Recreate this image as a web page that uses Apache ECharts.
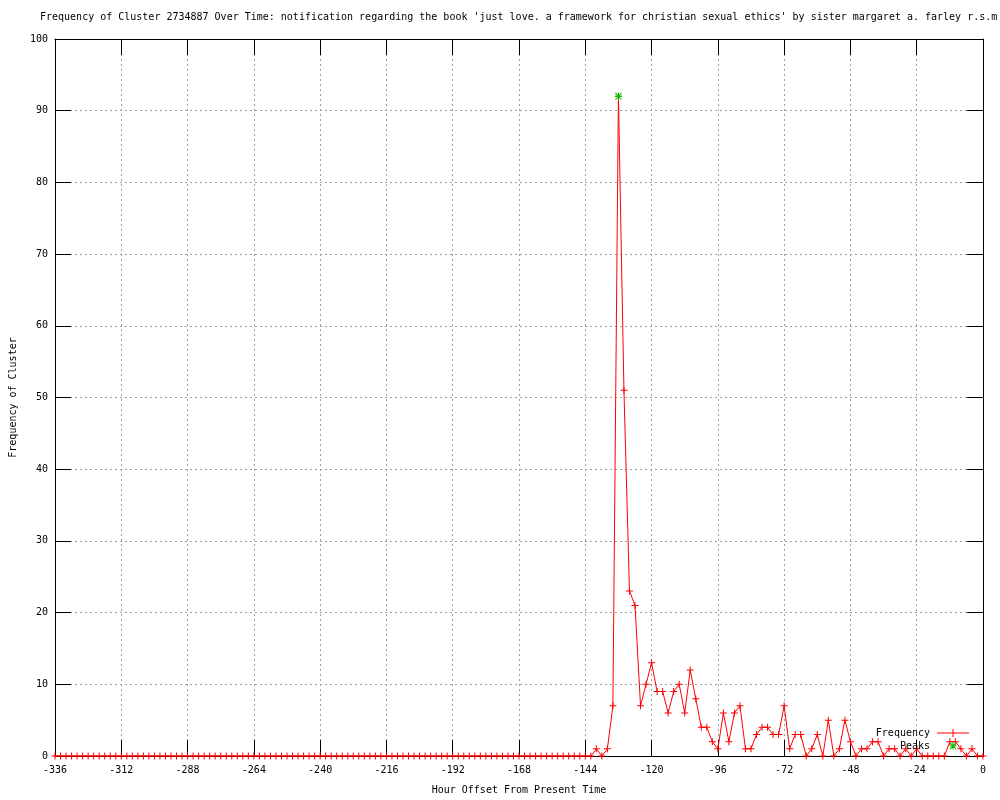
<!DOCTYPE html>
<html>
<head>
<meta charset="utf-8">
<script src="https://cdn.jsdelivr.net/npm/echarts@6/dist/echarts.min.js"></script>
<style>html,body{margin:0;padding:0;background:#fff}#c{width:1000px;height:800px}</style>
</head>
<body>
<div id="c"></div>
<script>
const titleText = "Frequency of Cluster 2734887 Over Time: notification regarding the book 'just love. a framework for christian sexual ethics' by sister margaret a. farley r.s.m";
const xName = "Hour Offset From Present Time";
const yName = "Frequency of Cluster";

const hours = [
  -336,-334,-332,-330,-328,-326,-324,-322,-320,-318,-316,-314,
  -312,-310,-308,-306,-304,-302,-300,-298,-296,-294,-292,-290,
  -288,-286,-284,-282,-280,-278,-276,-274,-272,-270,-268,-266,
  -264,-262,-260,-258,-256,-254,-252,-250,-248,-246,-244,-242,
  -240,-238,-236,-234,-232,-230,-228,-226,-224,-222,-220,-218,
  -216,-214,-212,-210,-208,-206,-204,-202,-200,-198,-196,-194,
  -192,-190,-188,-186,-184,-182,-180,-178,-176,-174,-172,-170,
  -168,-166,-164,-162,-160,-158,-156,-154,-152,-150,-148,-146,
  -144,-142,-140,-138,-136,-134,-132,-130,-128,-126,-124,-122,
  -120,-118,-116,-114,-112,-110,-108,-106,-104,-102,-100,-98,
  -96,-94,-92,-90,-88,-86,-84,-82,-80,-78,-76,-74,
  -72,-70,-68,-66,-64,-62,-60,-58,-56,-54,-52,-50,
  -48,-46,-44,-42,-40,-38,-36,-34,-32,-30,-28,-26,
  -24,-22,-20,-18,-16,-14,-12,-10,-8,-6,-4,-2,
  0
];
const frequency = [
  0,0,0,0,0,0,0,0,0,0,0,0,
  0,0,0,0,0,0,0,0,0,0,0,0,
  0,0,0,0,0,0,0,0,0,0,0,0,
  0,0,0,0,0,0,0,0,0,0,0,0,
  0,0,0,0,0,0,0,0,0,0,0,0,
  0,0,0,0,0,0,0,0,0,0,0,0,
  0,0,0,0,0,0,0,0,0,0,0,0,
  0,0,0,0,0,0,0,0,0,0,0,0,
  0,0,1,0,1,7,92,51,23,21,7,10,
  13,9,9,6,9,10,6,12,8,4,4,2,
  1,6,2,6,7,1,1,3,4,4,3,3,
  7,1,3,3,0,1,3,0,5,0,1,5,
  2,0,1,1,2,2,0,1,1,0,1,0,
  1,0,0,0,0,0,2,2,1,0,1,0,
  0
];
const peakHours = [-132];
const peakValues = [92];

const xTicks = [-336,-312,-288,-264,-240,-216,-192,-168,-144,-120,-96,-72,-48,-24,0];
const yTicks = [0,10,20,30,40,50,60,70,80,90,100];

const FONT = "'DejaVu Sans Mono', 'Liberation Mono', monospace";
const RED = '#ff0000';
const GREEN = '#00c000';
const plusPath = 'path://M0,3L7,3L7,4L0,4Z M3,0L4,0L4,7L3,7Z';
const starPath = 'path://M0,3L7,3L7,4L0,4Z M3,0L4,0L4,7L3,7Z M0.4,0L1,0L7,6.6L6.6,7L6,7L0,0.4Z M6,0L6.6,0L7,0.4L1,7L0.4,7L0,6.6Z';
const legendFreqIcon = 'path://M0,4L32,4L32,5L0,5Z M15.5,0.5L16.5,0.5L16.5,8.5L15.5,8.5Z';
const legendPeakIcon = 'path://M0,0L0.01,0L0.01,0.01Z M31.99,8.99L32,8.99L32,9L31.99,9Z M12.5,4L19.5,4L19.5,5L12.5,5Z M15.5,1L16.5,1L16.5,8L15.5,8Z M12.9,1L13.5,1L19.5,7.6L19.1,8L18.5,8L12.5,1.4Z M18.5,1L19.1,1L19.5,1.4L13.5,8L12.9,8L12.5,7.6Z';

const freqData = hours.map((h, i) => [h, frequency[i]]);
const peakData = peakHours.map((h, i) => [h, peakValues[i]]);

const chart = echarts.init(document.getElementById('c'), null, {renderer: 'canvas'});
const axisCommon = {
  axisLine: {show: true, onZero: false, lineStyle: {color: '#000', width: 1}},
  axisTick: {show: true, inside: true, length: 16, lineStyle: {color: '#000', width: 1}},
};
chart.setOption({
  animation: false,
  backgroundColor: '#fff',
  textStyle: {fontFamily: FONT},
  title: {
    text: titleText,
    left: 40, top: 12, padding: 0,
    textStyle: {fontFamily: FONT, fontSize: 10, fontWeight: 'normal', color: '#000'}
  },
  legend: [
    {
      data: ['Frequency'],
      right: 31, top: 728,
      align: 'right',
      itemWidth: 32, itemHeight: 9,
      itemGap: 0,
      icon: legendFreqIcon,
      selectedMode: false,
      textStyle: {fontFamily: FONT, fontSize: 10, color: '#000', padding: [0, 2, 0, 0]},
      padding: 0
    },
    {
      data: ['Peaks'],
      right: 31, top: 741,
      align: 'right',
      itemWidth: 32, itemHeight: 9,
      itemGap: 0,
      icon: legendPeakIcon,
      selectedMode: false,
      textStyle: {fontFamily: FONT, fontSize: 10, color: '#000', padding: [0, 2, 0, 0]},
      padding: 0
    }
  ],
  grid: {left: 55, right: 17, top: 39, bottom: 40, containLabel: false},
  xAxis: [
    Object.assign({
      type: 'value', position: 'bottom',
      min: xTicks[0], max: xTicks[xTicks.length - 1], interval: 24,
      name: xName, nameLocation: 'middle', nameGap: 29,
      nameTextStyle: {fontFamily: FONT, fontSize: 10, color: '#000'},
      axisLabel: {fontFamily: FONT, fontSize: 10, color: '#000', margin: 9},
      splitLine: {show: true, lineStyle: {color: '#a0a0a0', width: 1, type: [2, 3]}}
    }, axisCommon),
    Object.assign({
      type: 'value', position: 'top',
      min: xTicks[0], max: xTicks[xTicks.length - 1], interval: 24,
      axisLabel: {show: false},
      splitLine: {show: false}
    }, axisCommon)
  ],
  yAxis: [
    Object.assign({
      type: 'value', position: 'left',
      min: yTicks[0], max: yTicks[yTicks.length - 1], interval: 10,
      name: yName, nameLocation: 'middle', nameGap: 37, nameRotate: 90,
      nameTextStyle: {fontFamily: FONT, fontSize: 10, color: '#000'},
      axisLabel: {fontFamily: FONT, fontSize: 10, color: '#000', margin: 7},
      splitLine: {show: true, lineStyle: {color: '#a0a0a0', width: 1, type: [2, 3]}}
    }, axisCommon),
    Object.assign({
      type: 'value', position: 'right',
      min: yTicks[0], max: yTicks[yTicks.length - 1], interval: 10,
      axisLabel: {show: false},
      splitLine: {show: false}
    }, axisCommon)
  ],
  series: [
    {
      name: 'Frequency',
      type: 'line',
      data: freqData,
      symbol: plusPath,
      symbolSize: 7,
      showAllSymbol: true,
      lineStyle: {color: RED, width: 1},
      itemStyle: {color: RED},
      emphasis: {disabled: true},
      z: 3
    },
    {
      name: 'Peaks',
      type: 'line',
      data: peakData,
      symbol: starPath,
      symbolSize: 7,
      lineStyle: {width: 0, opacity: 0},
      itemStyle: {color: GREEN},
      emphasis: {disabled: true},
      z: 4
    }
  ]
});
</script>
</body>
</html>
